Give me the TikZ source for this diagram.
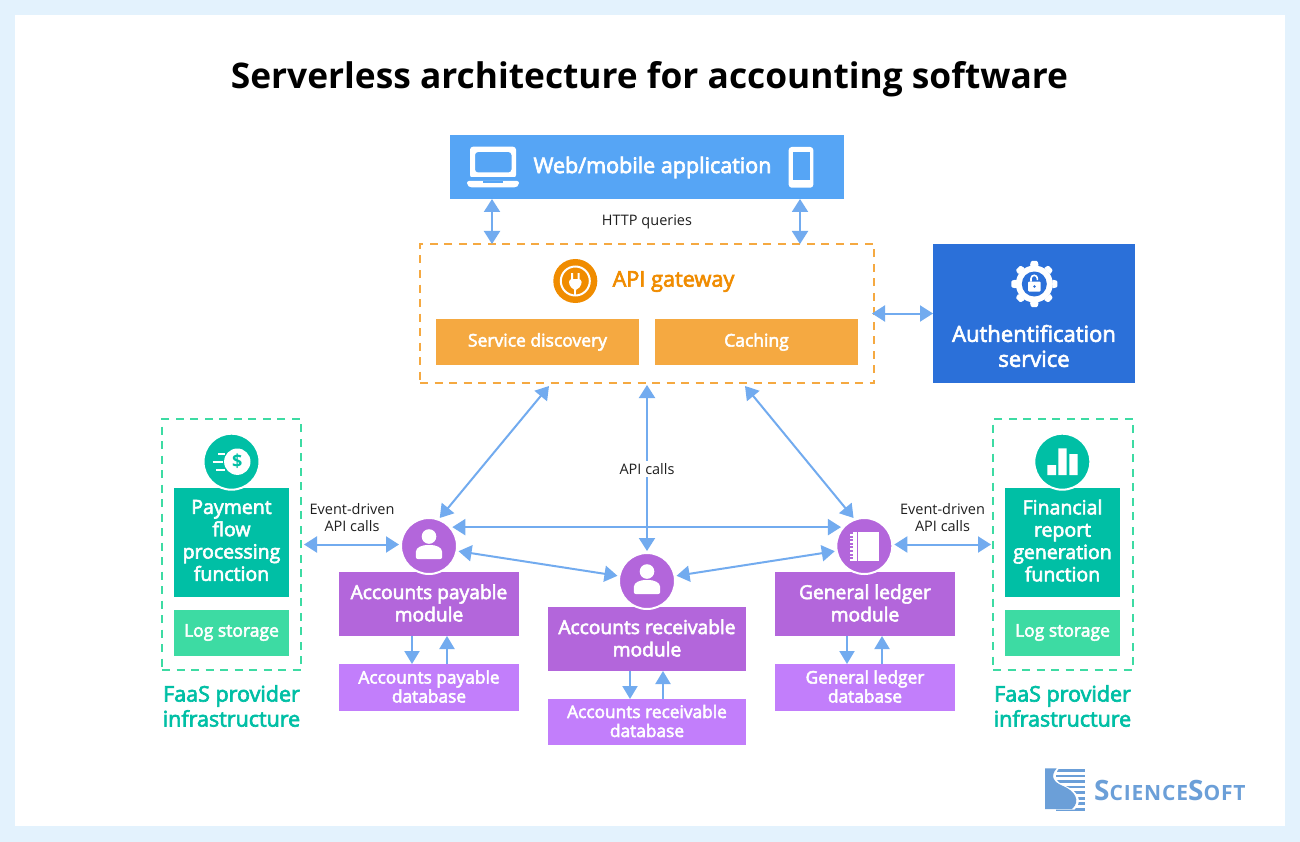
\documentclass[tikz,border=0pt]{standalone}
\usepackage{fontspec}
\setmainfont{Open Sans}
\newfontfamily\semi[BoldFont={Open Sans},BoldFeatures={FakeBold=3},UprightFeatures={FakeBold=3}]{Open Sans}
\usetikzlibrary{arrows.meta,calc}
\newcommand\myfs[2]{\fontsize{#1}{#2}\selectfont}
\definecolor{bgc}{HTML}{E3F2FD}
\definecolor{webc}{HTML}{56A5F5}
\definecolor{orl}{HTML}{F5A941}
\definecolor{ord}{HTML}{F08C00}
\definecolor{authc}{HTML}{2B70D9}
\definecolor{grn}{HTML}{00BFA5}
\definecolor{grl}{HTML}{3DDBA3}
\definecolor{pur}{HTML}{B366DB}
\definecolor{purl}{HTML}{C27EFB}
\definecolor{arc}{HTML}{72ABEF}
\definecolor{logoc}{HTML}{6B9FD8}
\tikzset{
  box/.style={rectangle,inner sep=0pt,outer sep=0pt,text=white,align=center,font=\semi},
  dashbox/.style={rectangle,inner sep=0pt,outer sep=0pt,line width=2pt,dash pattern=on 8pt off 6.5pt},
  disc/.style={circle,inner sep=0pt,minimum size=56pt,draw=white,line width=2pt,outer sep=2pt},
  biarrow/.style={draw=arc,line width=2pt,{Triangle[width=16pt,length=13pt]}-{Triangle[width=16pt,length=13pt]}},
  oneway/.style={draw=arc,line width=2pt,-{Triangle[width=15pt,length=13pt]}},
  lbl/.style={inner sep=0pt,align=center,text=black!88,font=\myfs{14.5}{17.5}},
  faastxt/.style={inner sep=0pt,align=center,text=grn,font=\semi\myfs{21.5}{25}},
  modtxt/.style={font=\semi\myfs{19.2}{22.3}},
  dbtxt/.style={font=\semi\myfs{17.3}{19}},
  logtxt/.style={inner sep=0pt,text=white,font=\semi\myfs{17.5}{21}}
}
\begin{document}
\begin{tikzpicture}[x=1pt,y=-1pt]
\useasboundingbox (0,0) rectangle (1300,842);
\fill[bgc] (0,0) rectangle (1300,842);
\fill[white] (15,15) rectangle (1285,826);
\node[inner sep=0pt,font=\bfseries\myfs{35.3}{40}] (title) at (649.5,79) {Serverless architecture for accounting software};

% web
\node[box,fill=webc,minimum width=394pt,minimum height=64pt] (web) at (647,167) {};
\node[inner sep=0pt,text=white,font=\semi\myfs{21.5}{25}] (webt) at (652.5,167.5) {Web/mobile application};
\fill[white,rounded corners=3pt,even odd rule] (470,146.7) rectangle (516,178) (475,152) rectangle (511.5,172.5);
\fill[webc] (468,177.3) rectangle (518,181);
\fill[white,rounded corners=2pt] (467,181) -- (519,181) -- (519,185) -- (516,187.5) -- (470,187.5) -- (467,185) -- cycle;
\fill[webc] (483,181) rectangle (503,182.6);
\fill[white,rounded corners=3pt] (788.7,147) rectangle (813.3,187.7);
\fill[webc] (792.5,152.3) rectangle (809.5,179.7);

\node[lbl] (http) at (647,222) {HTTP queries};

% gateway
\node[dashbox,draw=orl,minimum width=454pt,minimum height=139pt] (gw) at (647,313.5) {};
\node[disc,draw=none,fill=ord,minimum size=44pt] (plug) at (575.3,281) {};
\draw[white,line width=2pt] (575.3,281) circle (14.5);
\fill[white] (571,273) rectangle (573,280) (577.6,273) rectangle (579.6,280);
\fill[white,rounded corners=3pt] (569,279) -- (581.6,279) -- (581.6,285) -- (577,290) -- (573.6,290) -- (569,285) -- cycle;
\fill[white] (574.2,288) rectangle (576.4,296);
\node[inner sep=0pt,text=ord,font=\semi\myfs{21.7}{25}] (gwt) at (673.5,281.5) {API gateway};
\node[box,fill=orl,minimum width=203pt,minimum height=46pt,font=\semi\myfs{17.5}{21}] (sd) at (537.5,342) {Service discovery};
\node[box,fill=orl,minimum width=203pt,minimum height=46pt,font=\semi\myfs{17.5}{21}] (cache) at (756.5,342) {Caching};

% auth
\node[box,fill=authc,minimum width=202pt,minimum height=139pt] (auth) at (1034,313.5) {};
\node[inner sep=0pt,text=white,align=center,font=\semi\myfs{22}{25}] (autht) at (1034,346) {Authentification\\service};
\foreach \a in {0,45,...,315}{
  \fill[white,rounded corners=1pt,shift={(1034.3,284)},rotate=\a] (-4.5,-18) -- (-3.2,-23) -- (3.2,-23) -- (4.5,-18) -- cycle;
}
\fill[white] (1034.3,284) circle (18.5);
\fill[authc] (1034.3,284) circle (12.5);
\fill[white,rounded corners=1pt] (1028.2,281.5) rectangle (1040.6,291.5);
\draw[white,line width=1.6pt] (1031,281.5) -- (1031,278.5) arc[start angle=180,end angle=0,x radius=3.2pt,y radius=3.2pt] -- (1037.4,280);
\fill[authc] (1034.4,286.5) circle (1.4);

% left FaaS
\node[dashbox,draw=grl,minimum width=139pt,minimum height=251pt] (faasL) at (231.5,544.5) {};
\node[box,fill=grn,minimum width=115pt,minimum height=109pt] (pay) at (231.5,542.5) {};
\node[inner sep=0pt,text=white,align=center,font=\semi\myfs{19.5}{22.3}] (payt) at (231.5,540.5) {Payment\\flow\\processing\\function};
\node[box,fill=grl,minimum width=115pt,minimum height=46pt] (logL) at (231.5,633) {};
\node[logtxt] (logLt) at (231.5,632.5) {Log storage};
\node[disc,fill=grn] (dollar) at (231.5,461.7) {};
\fill[white] (237.3,461.7) circle (13.2);
\node[inner sep=0pt,text=grn,font=\bfseries\myfs{18}{20}] (dsign) at (237.3,461.5) {\$};
\draw[white,line width=2pt] (218,453.5) -- (224.5,453.5) (212.5,461.5) -- (222.5,461.5) (216,469.5) -- (224.5,469.5);
\node[faastxt] (faasLt) at (231.5,706) {FaaS provider\\infrastructure};

% right FaaS
\node[dashbox,draw=grl,minimum width=140pt,minimum height=251pt] (faasR) at (1063,544.5) {};
\node[box,fill=grn,minimum width=115pt,minimum height=109pt] (fin) at (1062.5,542.5) {};
\node[inner sep=0pt,text=white,align=center,font=\semi\myfs{19.5}{22.3}] (fint) at (1062.5,540.5) {Financial\\report\\generation\\function};
\node[box,fill=grl,minimum width=115pt,minimum height=46pt] (logR) at (1062.5,633) {};
\node[logtxt] (logRt) at (1062.5,632.5) {Log storage};
\node[disc,fill=grn] (chart) at (1062.3,461.7) {};
\fill[white] (1047.3,465) rectangle (1056,475) (1058.3,448.3) rectangle (1066.7,475) (1069.3,454) rectangle (1077.7,475);
\node[faastxt] (faasRt) at (1062.5,706) {FaaS provider\\infrastructure};

% modules
\node[box,fill=pur,minimum width=180pt,minimum height=64pt] (apm) at (429,604) {};
\node[inner sep=0pt,text=white,align=center,modtxt] (apmt) at (429,603) {Accounts payable\\module};
\node[box,fill=purl,minimum width=180pt,minimum height=47pt] (apd) at (429,687.5) {};
\node[inner sep=0pt,text=white,align=center,dbtxt] (apdt) at (429,686.5) {Accounts payable\\database};
\node[disc,fill=pur] (ap) at (429,546) {};
\node[box,fill=pur,minimum width=198pt,minimum height=64pt] (arm) at (647,639) {};
\node[inner sep=0pt,text=white,align=center,modtxt] (armt) at (647,638) {Accounts receivable\\module};
\node[box,fill=purl,minimum width=198pt,minimum height=46pt] (ard) at (647,722) {};
\node[inner sep=0pt,text=white,align=center,dbtxt] (ardt) at (647,721) {Accounts receivable\\database};
\node[disc,fill=pur] (ar) at (647,581) {};
\node[box,fill=pur,minimum width=180pt,minimum height=64pt] (glm) at (865,604) {};
\node[inner sep=0pt,text=white,align=center,modtxt] (glmt) at (865,603) {General ledger\\module};
\node[box,fill=purl,minimum width=180pt,minimum height=47pt] (gld) at (865,687.5) {};
\node[inner sep=0pt,text=white,align=center,dbtxt] (gldt) at (865,686.5) {General ledger\\database};
\node[disc,fill=pur] (gl) at (864.3,546) {};

% user icons
\foreach \c/\yy in {429/546,647/581}{
  \fill[white] (\c,\yy-9.5) circle (7.3);
  \fill[white,rounded corners=2pt] (\c-13.2,\yy+13) -- (\c-13.2,\yy+8) .. controls (\c-13.2,\yy+1) and (\c-6,\yy-1) .. (\c,\yy-1) .. controls (\c+6,\yy-1) and (\c+13.2,\yy+1) .. (\c+13.2,\yy+8) -- (\c+13.2,\yy+13) -- cycle;
}
% notebook
\fill[white] (858.3,531.7) rectangle (879.3,561);
\fill[white] (852.5,531.7) rectangle (857,561);
\foreach \k in {0,...,7}{\fill[white] (849.8,534+\k*3.6) rectangle (853,535.6+\k*3.6);}

% connectors
\draw[biarrow] ([xshift=42pt]web.south west) -- ([xshift=72pt]gw.north west);
\draw[biarrow] ([xshift=350pt]web.south west) -- ([xshift=380pt]gw.north west);
\draw[biarrow] ([xshift=-2pt]gw.east) -- (auth.west);
\draw[biarrow] ([xshift=129pt,yshift=-3pt]gw.south west) -- (ap.69);
\draw[biarrow] ([yshift=-2pt]gw.south) -- (ar.north);
\draw[biarrow] ([xshift=325pt,yshift=-3pt]gw.south west) -- (gl.111);
\draw[biarrow] (ap.39) -- (gl.141);
\draw[biarrow] (ap.-10) -- (ar.170);
\draw[biarrow] (ar.10) -- (gl.190);
\draw[biarrow] ([xshift=3pt]faasL.east) -- (faasL.east -| ap.west);
\draw[biarrow] (faasR.west -| gl.east) -- ([xshift=-2pt]faasR.west);
\foreach \m/\d/\p/\q in {apm/apd/73/108,arm/ard/82/115,glm/gld/72/107}{
  \draw[oneway] ([xshift=\p pt]\m.south west) -- ([xshift=\p pt]\d.north west);
  \draw[oneway] ([xshift=\q pt]\d.north west) -- ([xshift=\q pt]\m.south west);
}
\node[lbl,fill=white,inner sep=2pt] (api) at (647,469) {API calls};
\node[lbl] (evL) at (352,517.5) {Event-driven\\API calls};
\node[lbl] (evR) at (942.5,517.5) {Event-driven\\API calls};

% logo
\foreach \k in {0,...,7}{\fill[logoc] (1056,769+\k*5.55) rectangle (1085,771.8+\k*5.55);}
\path[fill=white] (1045,768) -- (1059.2,768) .. controls (1052.5,776) and (1055.5,782) .. (1065.5,786) .. controls (1077.5,791) and (1083.5,801) .. (1074.5,809.5) -- (1045,809.5) -- cycle;
\path[fill=logoc] (1045,768.3) -- (1056.7,768.3) .. controls (1050,776) and (1053,782) .. (1063,786) .. controls (1075,791) and (1081,801) .. (1072,809) -- (1045,809) -- cycle;
\node[inner sep=0pt,anchor=west,text=logoc,font=\bfseries] (logo) at (1094,790) {\myfs{28}{30}S\myfs{21}{30}\addfontfeature{LetterSpace=4}CIENCE\myfs{28}{30}\addfontfeature{LetterSpace=0}S\myfs{21}{30}\addfontfeature{LetterSpace=4}OFT};
\end{tikzpicture}
\end{document}
